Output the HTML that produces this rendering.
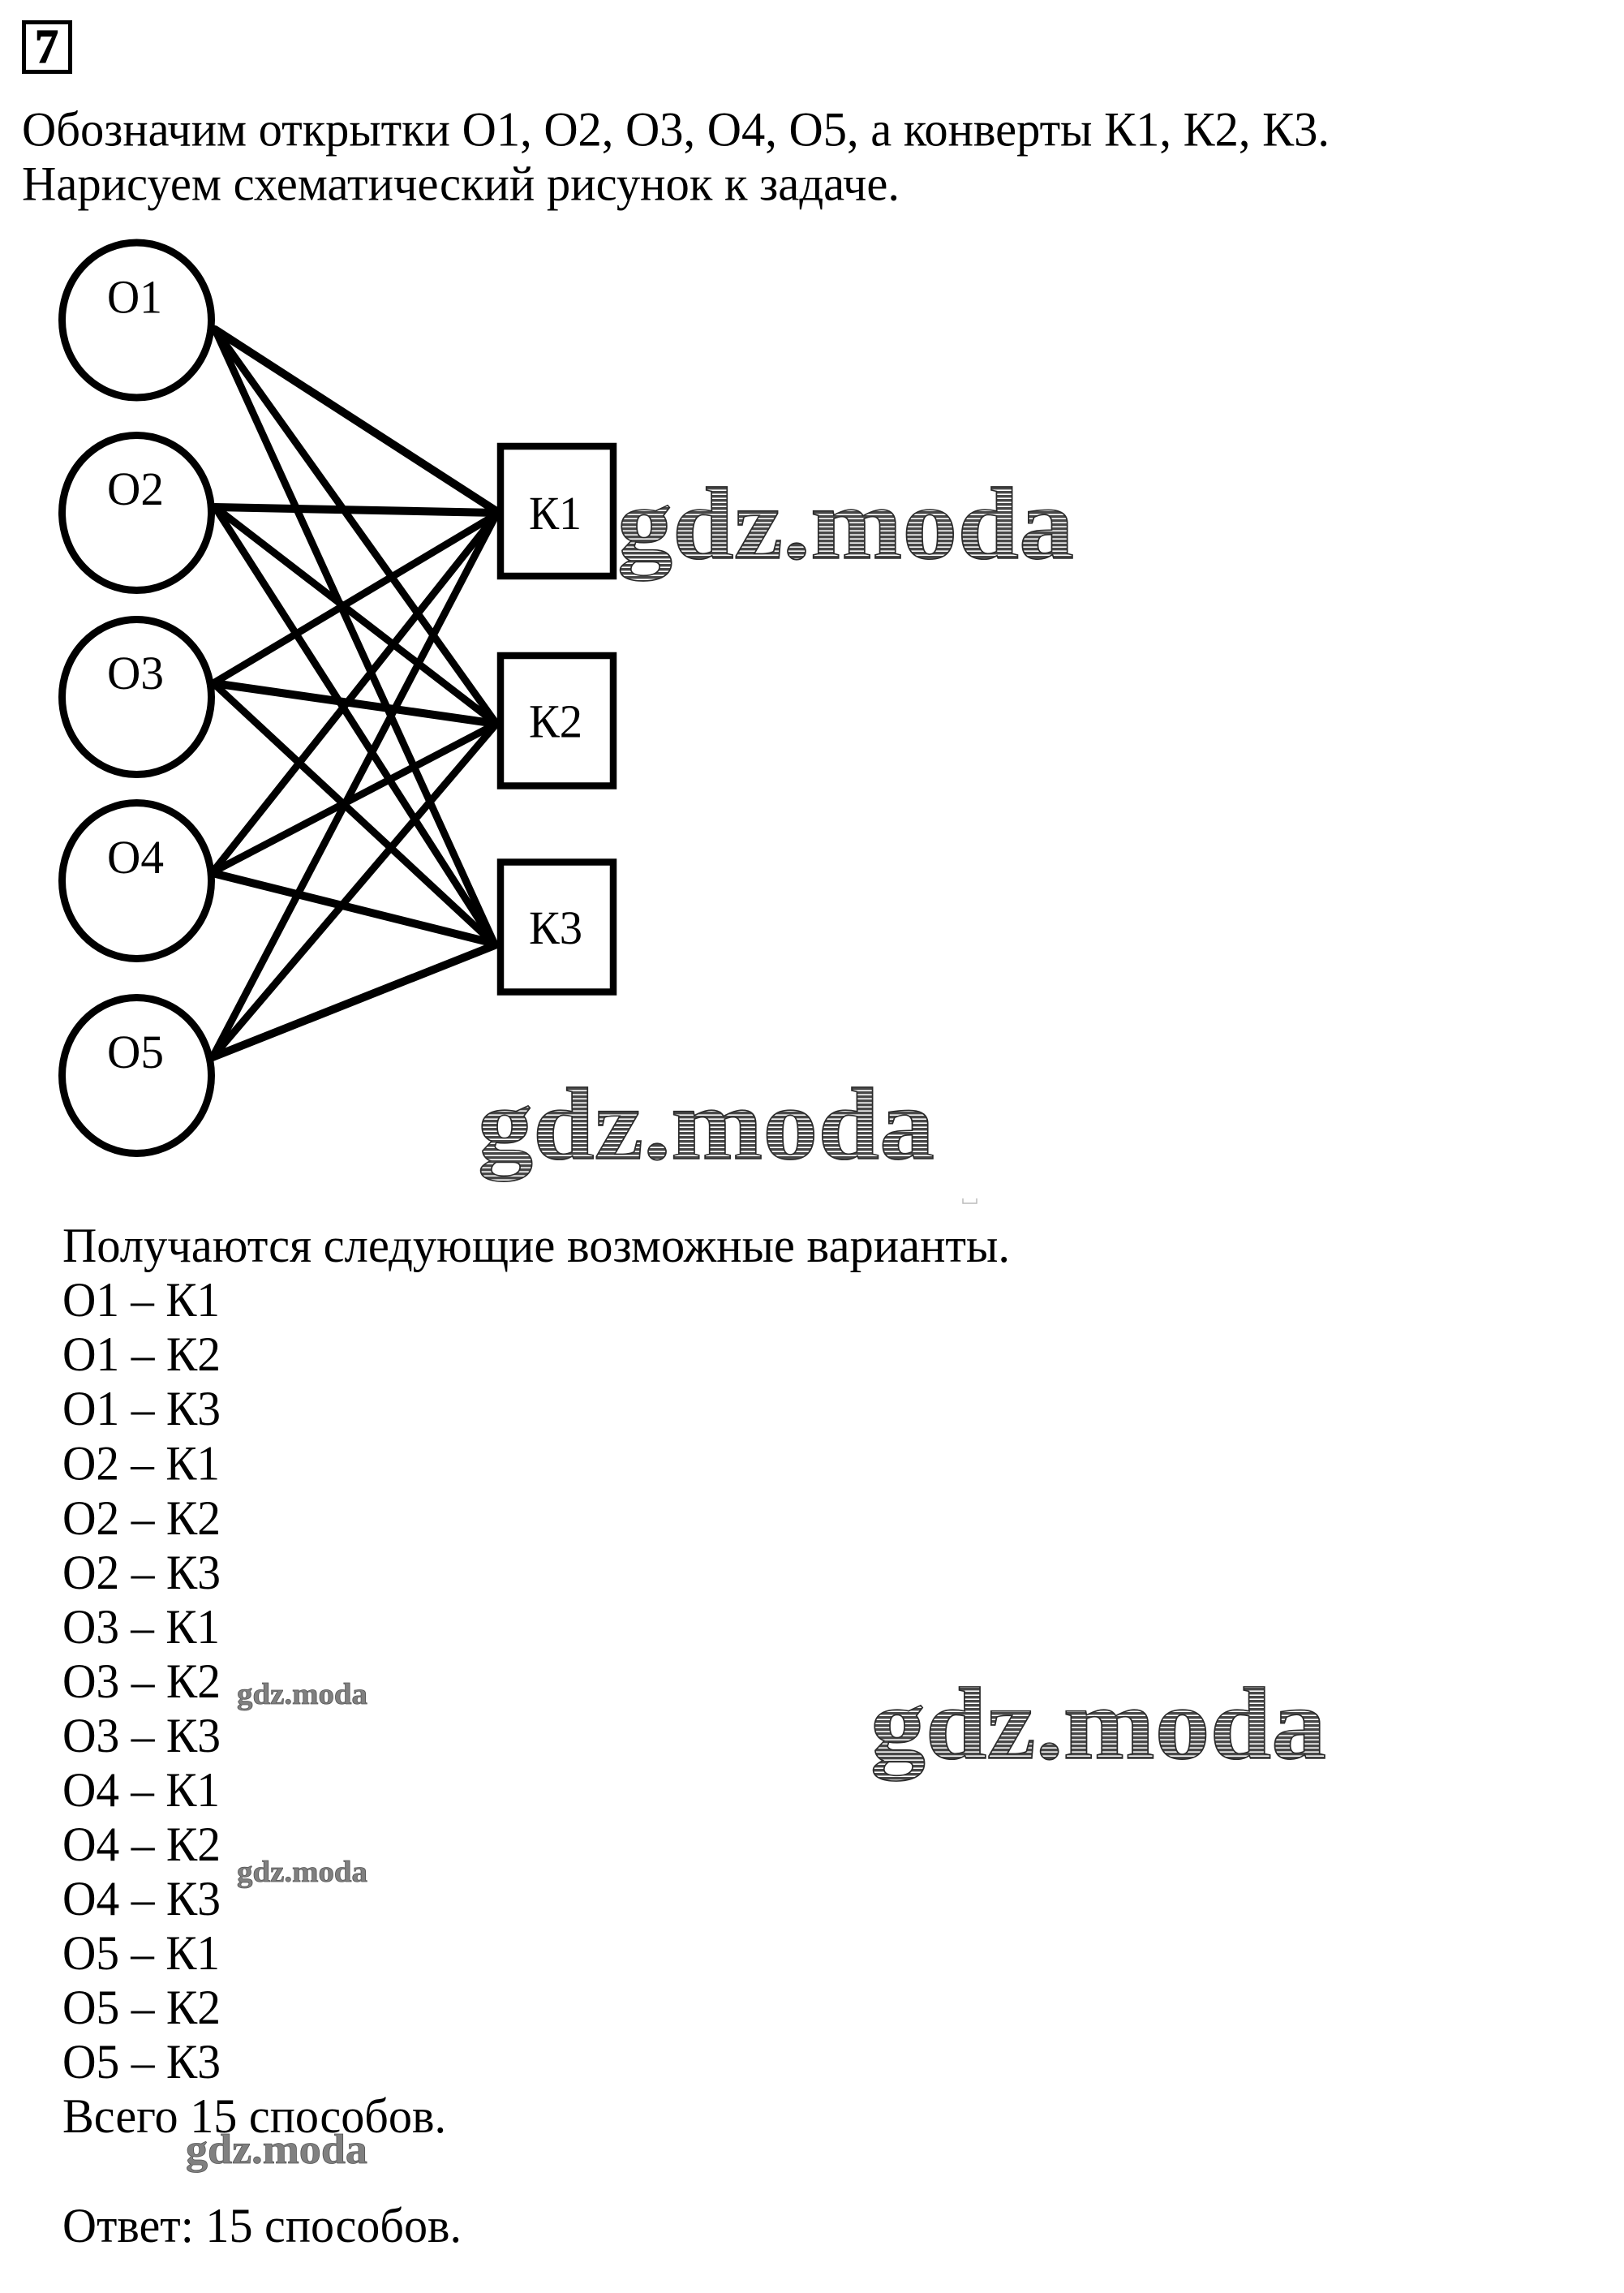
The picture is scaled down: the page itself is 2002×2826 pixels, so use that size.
<!DOCTYPE html>
<html><head><meta charset="utf-8"><style>
html,body{margin:0;padding:0;background:#fff}
svg{display:block}
text{font-family:"Liberation Serif","DejaVu Serif",serif;fill:#000}
.t{font-size:60px}
.n{font-size:58px}
.w{font-weight:bold;font-size:127px;fill:url(#h);stroke:#2a2a2a;stroke-width:1.6px}
.s{font-weight:bold;fill:#808080;stroke:#555;stroke-width:.8px}
</style></head><body>
<svg width="2002" height="2826" viewBox="0 0 2002 2826" xmlns="http://www.w3.org/2000/svg">
<defs><pattern id="h" width="6" height="5" patternUnits="userSpaceOnUse">
<rect width="6" height="5" fill="#fff"/><rect width="6" height="3.4" fill="#484848"/></pattern></defs>
<rect width="2002" height="2826" fill="#fff"/>

<rect x="29.5" y="27.5" width="57" height="61" fill="none" stroke="#000" stroke-width="5"/>
<text x="43" y="77" style="font-weight:bold;font-size:59px;stroke:#000;stroke-width:1.2px" textLength="29" lengthAdjust="spacingAndGlyphs">7</text>

<text class="t" x="27" y="179.5" textLength="1612" lengthAdjust="spacingAndGlyphs">Обозначим открытки О1, О2, О3, О4, О5, а конверты К1, К2, К3.</text>
<text class="t" x="27" y="246.5" textLength="1082" lengthAdjust="spacingAndGlyphs">Нарисуем схематический рисунок к задаче.</text>

<g stroke="#000" stroke-linecap="round" fill="none">
<g stroke-width="10"><line x1="265" y1="406" x2="612" y2="630"/><line x1="265" y1="625" x2="612" y2="632"/><line x1="263" y1="842" x2="612" y2="892"/><line x1="262" y1="1076" x2="610" y2="1163"/><line x1="262" y1="1303" x2="610" y2="1165"/></g>
<g stroke-width="9">
<line x1="265" y1="406" x2="612" y2="892"/><line x1="265" y1="406" x2="610" y2="1164"/>
<line x1="265" y1="625" x2="612" y2="892"/><line x1="265" y1="625" x2="610" y2="1164"/>
<line x1="263" y1="842" x2="612" y2="634"/><line x1="263" y1="842" x2="610" y2="1164"/>
<line x1="262" y1="1075" x2="612" y2="634"/><line x1="262" y1="1075" x2="612" y2="892"/>
<line x1="262" y1="1303" x2="612" y2="634"/><line x1="262" y1="1303" x2="612" y2="892"/>
</g>
<g stroke-width="9">
<ellipse cx="168.5" cy="394.5" rx="92" ry="95.5"/>
<ellipse cx="168.5" cy="632" rx="92" ry="95.5"/>
<ellipse cx="168.5" cy="859" rx="92" ry="95.5"/>
<ellipse cx="168.5" cy="1085.5" rx="92" ry="96"/>
<ellipse cx="168.5" cy="1325.5" rx="92" ry="96"/>
</g>
<g stroke-width="8.5" stroke-linecap="butt">
<rect x="617" y="550" width="139" height="160"/>
<rect x="617" y="808" width="139" height="160.5"/>
<rect x="617" y="1062.5" width="139" height="160"/>
</g>
</g>
<text class="n" x="132" y="385.5" textLength="68" lengthAdjust="spacingAndGlyphs">О1</text>
<text class="n" x="132" y="622" textLength="70" lengthAdjust="spacingAndGlyphs">О2</text>
<text class="n" x="132" y="849" textLength="70" lengthAdjust="spacingAndGlyphs">О3</text>
<text class="n" x="132" y="1076" textLength="70" lengthAdjust="spacingAndGlyphs">О4</text>
<text class="n" x="132" y="1316" textLength="70" lengthAdjust="spacingAndGlyphs">О5</text>
<text class="n" x="652" y="652" textLength="65" lengthAdjust="spacingAndGlyphs">К1</text>
<text class="n" x="652" y="908.5" textLength="66" lengthAdjust="spacingAndGlyphs">К2</text>
<text class="n" x="652" y="1163" textLength="66" lengthAdjust="spacingAndGlyphs">К3</text>

<text class="w" x="761" y="688" textLength="563" lengthAdjust="spacingAndGlyphs">gdz.moda</text>
<text class="w" x="589" y="1428" textLength="563" lengthAdjust="spacingAndGlyphs">gdz.moda</text>
<text class="w" x="1073" y="2167" textLength="562" lengthAdjust="spacingAndGlyphs">gdz.moda</text>
<text class="s" x="292" y="2100" style="font-size:37px" textLength="161" lengthAdjust="spacingAndGlyphs">gdz.moda</text>
<text class="s" x="292" y="2319" style="font-size:37px" textLength="161" lengthAdjust="spacingAndGlyphs">gdz.moda</text>
<text class="s" x="229" y="2666" style="font-size:52px" textLength="224" lengthAdjust="spacingAndGlyphs">gdz.moda</text>
<path d="M1187 1489v6h17v-6" fill="none" stroke="#bbb" stroke-width="1.5" transform="translate(0,-12)"/>

<text class="t" x="77" y="1555" textLength="1181" lengthAdjust="spacingAndGlyphs" style="display:none"></text>
<text class="t" x="77" y="1555" textLength="1168" lengthAdjust="spacingAndGlyphs">Получаются следующие возможные варианты.</text>
<text class="t" x="77" y="1622" textLength="194" lengthAdjust="spacingAndGlyphs">О1 – К1</text>
<text class="t" x="77" y="1689" textLength="195" lengthAdjust="spacingAndGlyphs">О1 – К2</text>
<text class="t" x="77" y="1756" textLength="195" lengthAdjust="spacingAndGlyphs">О1 – К3</text>
<text class="t" x="77" y="1823.5" textLength="194" lengthAdjust="spacingAndGlyphs">О2 – К1</text>
<text class="t" x="77" y="1891" textLength="195" lengthAdjust="spacingAndGlyphs">О2 – К2</text>
<text class="t" x="77" y="1958" textLength="195" lengthAdjust="spacingAndGlyphs">О2 – К3</text>
<text class="t" x="77" y="2025" textLength="194" lengthAdjust="spacingAndGlyphs">О3 – К1</text>
<text class="t" x="77" y="2092" textLength="195" lengthAdjust="spacingAndGlyphs">О3 – К2</text>
<text class="t" x="77" y="2159" textLength="195" lengthAdjust="spacingAndGlyphs">О3 – К3</text>
<text class="t" x="77" y="2226" textLength="194" lengthAdjust="spacingAndGlyphs">О4 – К1</text>
<text class="t" x="77" y="2293" textLength="195" lengthAdjust="spacingAndGlyphs">О4 – К2</text>
<text class="t" x="77" y="2360" textLength="195" lengthAdjust="spacingAndGlyphs">О4 – К3</text>
<text class="t" x="77" y="2427" textLength="194" lengthAdjust="spacingAndGlyphs">О5 – К1</text>
<text class="t" x="77" y="2494" textLength="195" lengthAdjust="spacingAndGlyphs">О5 – К2</text>
<text class="t" x="77" y="2561" textLength="195" lengthAdjust="spacingAndGlyphs">О5 – К3</text>
<text class="t" x="77" y="2628" textLength="473" lengthAdjust="spacingAndGlyphs">Всего 15 способов.</text>
<text class="t" x="77" y="2763" textLength="492" lengthAdjust="spacingAndGlyphs">Ответ: 15 способов.</text>
</svg>
</body></html>
